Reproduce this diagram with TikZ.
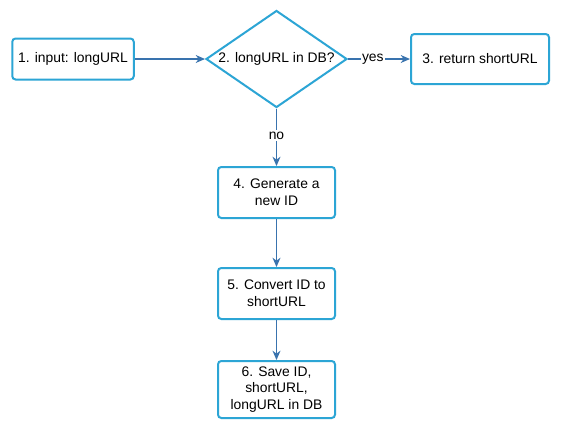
\documentclass[tikz,border=0pt]{standalone}
\usepackage{fontspec}
\setmainfont{Liberation Sans}
\usetikzlibrary{shapes.geometric,arrows.meta}
\definecolor{boxblue}{HTML}{2CA5D5}
\definecolor{arrowblue}{HTML}{3973AE}
\begin{document}
\begin{tikzpicture}[x=0.75pt,y=-0.75pt,
  every node/.style={font=\fontsize{10.4}{12.5}\selectfont, text=black},
  stepbox/.style={draw=boxblue, line width=1.5pt, rounded corners=2.5pt, fill=white, align=center, inner sep=0pt},
  decide/.style={draw=boxblue, line width=1.5pt, diamond, aspect=1.45, inner sep=0pt, fill=white},
  flow/.style={draw=arrowblue, line width=0.9pt, -{Stealth[length=7pt,width=6pt]}},
  lbl/.style={fill=white, inner sep=1pt}]
\fill[white] (0,0) rectangle (561,429);
\useasboundingbox (0,0) rectangle (561,429);
\node[stepbox, minimum width=121.5*0.75pt, minimum height=41*0.75pt] (b1) at (73,59) {1. input: longURL};
\node[decide, minimum width=141*0.75pt, minimum height=97*0.75pt] (d2) at (276.5,59) {2. longURL in DB?};
\node[stepbox, minimum width=138*0.75pt, minimum height=50*0.75pt] (b3) at (480,59) {3. return shortURL};
\node[stepbox, minimum width=117*0.75pt, minimum height=51*0.75pt] (b4) at (276.5,192.5) {4. Generate a\\new ID};
\node[stepbox, minimum width=117*0.75pt, minimum height=51*0.75pt] (b5) at (276.5,293.5) {5. Convert ID to\\shortURL};
\node[stepbox, minimum width=117*0.75pt, minimum height=57*0.75pt] (b6) at (276.5,389.5) {6. Save ID,\\shortURL,\\longURL in DB};
\draw[flow] (b1.east) -- (d2.west);
\draw[flow] (d2.east) -- node[lbl, pos=0.4] {yes} (b3.west);
\draw[flow] (d2.south) -- node[lbl, pos=0.47] {no} (b4.north);
\draw[flow] (b4.south) -- (b5.north);
\draw[flow] (b5.south) -- (b6.north);
\end{tikzpicture}
\end{document}
